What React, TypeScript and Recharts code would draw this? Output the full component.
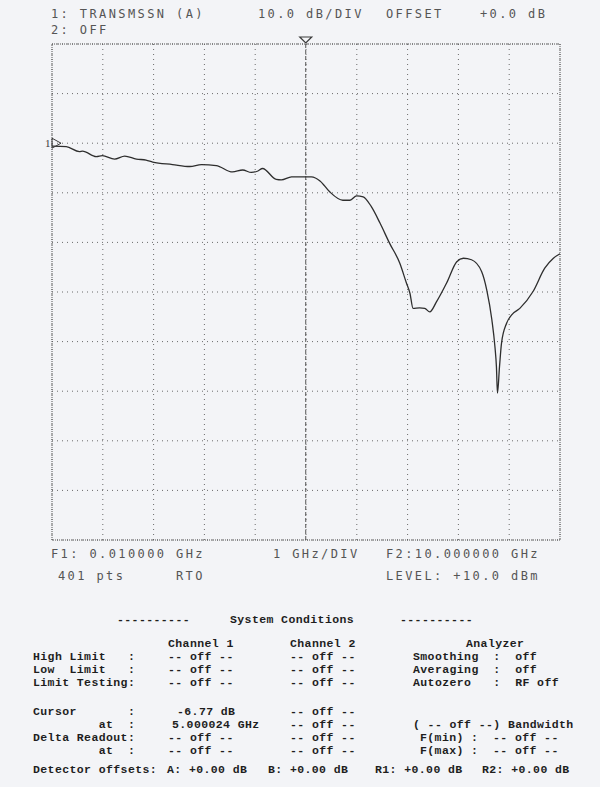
import { CartesianGrid, Line, LineChart, ReferenceArea, ReferenceDot, ReferenceLine, XAxis, YAxis } from 'recharts';

// trace 1: transmission (A)
const freqGHz = [
  0.01, 0.29, 0.55, 0.61, 0.88, 1.0, 1.24, 1.44, 1.67, 1.86, 1.99, 2.38, 2.72, 2.95, 3.24, 3.56, 3.76, 3.93, 4.06, 4.15,
  4.42, 4.52, 4.72, 5.0, 5.11, 5.28, 5.47, 5.73, 5.87, 6.0, 6.13, 6.29, 6.46, 6.65, 6.85, 6.98, 7.05, 7.11, 7.24, 7.34,
  7.44, 7.57, 7.77, 7.97, 8.1, 8.26, 8.46, 8.56, 8.66, 8.72, 8.75, 8.77, 8.81, 8.85, 8.95, 9.05, 9.21, 9.47, 9.7, 9.87, 10.0,
];
const transmissionDb = [
  -0.6, -0.7, -1.7, -1.6, -2.7, -2.5, -3.2, -2.6, -3.2, -3.4, -3.8, -4.3, -4.7, -4.3, -4.5, -5.8, -5.4, -5.9, -5.6, -5.1,
  -7.3, -7.4, -6.8, -6.77, -6.8, -7.6, -9.8, -11.5, -11.5, -10.6, -10.8, -12.8, -16.1, -20.2, -24.2, -28.2, -30.3, -33.3,
  -33.2, -33.3, -34.0, -32.0, -28.2, -23.9, -23.2, -23.5, -25.9, -29.6, -35.6, -41.0, -45.1, -50.4, -45.1, -40.3, -36.3,
  -34.6, -33.3, -29.9, -25.2, -23.2, -22.3,
];

// F1 .. F2, 1 GHz/DIV
const xTicks = [0.01, 1.009, 2.008, 3.007, 4.006, 5.005, 6.004, 7.003, 8.002, 9.001, 10];
// 10.0 dB/DIV, reference (marker "1") at 0 dB
const yTicks = [-80, -70, -60, -50, -40, -30, -20, -10, 0, 10, 20];
const cursorGHz = 5.000024;
const refDb = 0;

const headerRows: [number, number, string][] = [
  [14, 51, '1: TRANSMSSN (A)'],
  [14, 258, '10.0 dB/DIV'],
  [14, 386, 'OFFSET'],
  [14, 480, '+0.0 dB'],
  [30, 51, '2: OFF'],
  [554, 51, 'F1: 0.010000 GHz'],
  [554, 273, '1 GHz/DIV'],
  [554, 386, 'F2:10.000000 GHz'],
  [576, 58, '401 pts'],
  [576, 176, 'RTO'],
  [576, 386, 'LEVEL: +10.0 dBm'],
];

const conditionRows: [number, number, string][] = [
  [620, 117, '----------'],
  [620, 230, 'System Conditions'],
  [620, 400, '----------'],
  [644, 168, 'Channel 1'],
  [644, 290, 'Channel 2'],
  [644, 466, 'Analyzer'],
  [657, 33, 'High Limit   :'],
  [657, 168, '-- off --'],
  [657, 290, '-- off --'],
  [657, 413, 'Smoothing  :  off'],
  [670, 33, 'Low  Limit   :'],
  [670, 168, '-- off --'],
  [670, 290, '-- off --'],
  [670, 413, 'Averaging  :  off'],
  [683, 33, 'Limit Testing:'],
  [683, 168, '-- off --'],
  [683, 290, '-- off --'],
  [683, 413, 'Autozero   :  RF off'],
  [712, 33, 'Cursor       :'],
  [712, 177, '-6.77 dB'],
  [712, 290, '-- off --'],
  [725, 33, '         at  :'],
  [725, 172, '5.000024 GHz'],
  [725, 290, '-- off --'],
  [725, 413, '( -- off --) Bandwidth'],
  [738, 33, 'Delta Readout:'],
  [738, 168, '-- off --'],
  [738, 290, '-- off --'],
  [738, 420, 'F(min) :  -- off --'],
  [751, 33, '         at  :'],
  [751, 168, '-- off --'],
  [751, 290, '-- off --'],
  [751, 420, 'F(max) :  -- off --'],
  [770, 33, 'Detector offsets:'],
  [770, 167, 'A: +0.00 dB'],
  [770, 268, 'B: +0.00 dB'],
  [770, 375, 'R1: +0.00 dB'],
  [770, 482, 'R2: +0.00 dB'],
];

const data = freqGHz.map((f, i) => ({ f, db: transmissionDb[i] }));

const ink = '#3a3a3a';

// "1 ▷" reference-level marker on the left edge
const RefMarker = (props: any) => {
  const { cx, cy } = props;
  return (
    <g>
      <text x={cx - 7} y={cy + 4} fontSize={11} fontFamily="'Liberation Serif', serif" fill={ink}>
        1
      </text>
      <path d={`M${cx} ${cy - 5} L${cx + 9} ${cy} L${cx} ${cy + 5} Z`} fill="none" stroke={ink} strokeWidth={1} />
    </g>
  );
};

// "▽" cursor marker above the grid
const CursorMarker = (props: any) => {
  const { cx, cy } = props;
  return (
    <path
      d={`M${cx - 6} ${cy - 7} L${cx + 6} ${cy - 7} L${cx} ${cy - 1} Z`}
      fill="none"
      stroke={ink}
      strokeWidth={1.2}
    />
  );
};

export default function App() {
  return (
    <div
      style={{
        position: 'absolute',
        left: 0,
        top: 0,
        width: 600,
        height: 787,
        background: '#f3f4f7',
        overflow: 'hidden',
      }}
    >
      <LineChart width={600} height={560} data={data} margin={{ top: 44, right: 40, bottom: 20, left: 52 }}>
        <XAxis dataKey="f" type="number" domain={[0.01, 10]} ticks={xTicks} hide />
        <YAxis type="number" domain={[-80, 20]} ticks={yTicks} hide />
        <CartesianGrid stroke="#6a6a6a" strokeDasharray="1 4" strokeWidth={1} />
        <ReferenceArea x1={0.01} x2={10} y1={-80} y2={20} fill="none" stroke="#555" strokeDasharray="1 1" />
        <ReferenceLine x={cursorGHz} stroke="#555" strokeDasharray="4 2" />
        <ReferenceDot x={cursorGHz} y={20} r={0} shape={CursorMarker} />
        <ReferenceDot x={0.01} y={refDb} r={0} shape={RefMarker} />
        <Line
          type="monotone"
          dataKey="db"
          stroke="#2e2e2e"
          strokeWidth={1.3}
          dot={false}
          isAnimationActive={false}
        />
      </LineChart>

      {headerRows.map(([y, x, t], i) => (
        <div
          key={'h' + i}
          style={{
            position: 'absolute',
            left: x,
            top: y - 7,
            lineHeight: '14px',
            fontFamily: "'DejaVu Sans Mono', monospace",
            fontSize: 12,
            letterSpacing: 2.4,
            color: '#555',
            whiteSpace: 'pre',
          }}
        >
          {t}
        </div>
      ))}

      {conditionRows.map(([y, x, t], i) => (
        <div
          key={'c' + i}
          style={{
            position: 'absolute',
            left: x,
            top: y - 6,
            lineHeight: '12px',
            fontFamily: "'Liberation Mono', monospace",
            fontWeight: 'bold',
            fontSize: 11.5,
            letterSpacing: 0.4,
            color: '#1e1e1e',
            whiteSpace: 'pre',
          }}
        >
          {t}
        </div>
      ))}
    </div>
  );
}
